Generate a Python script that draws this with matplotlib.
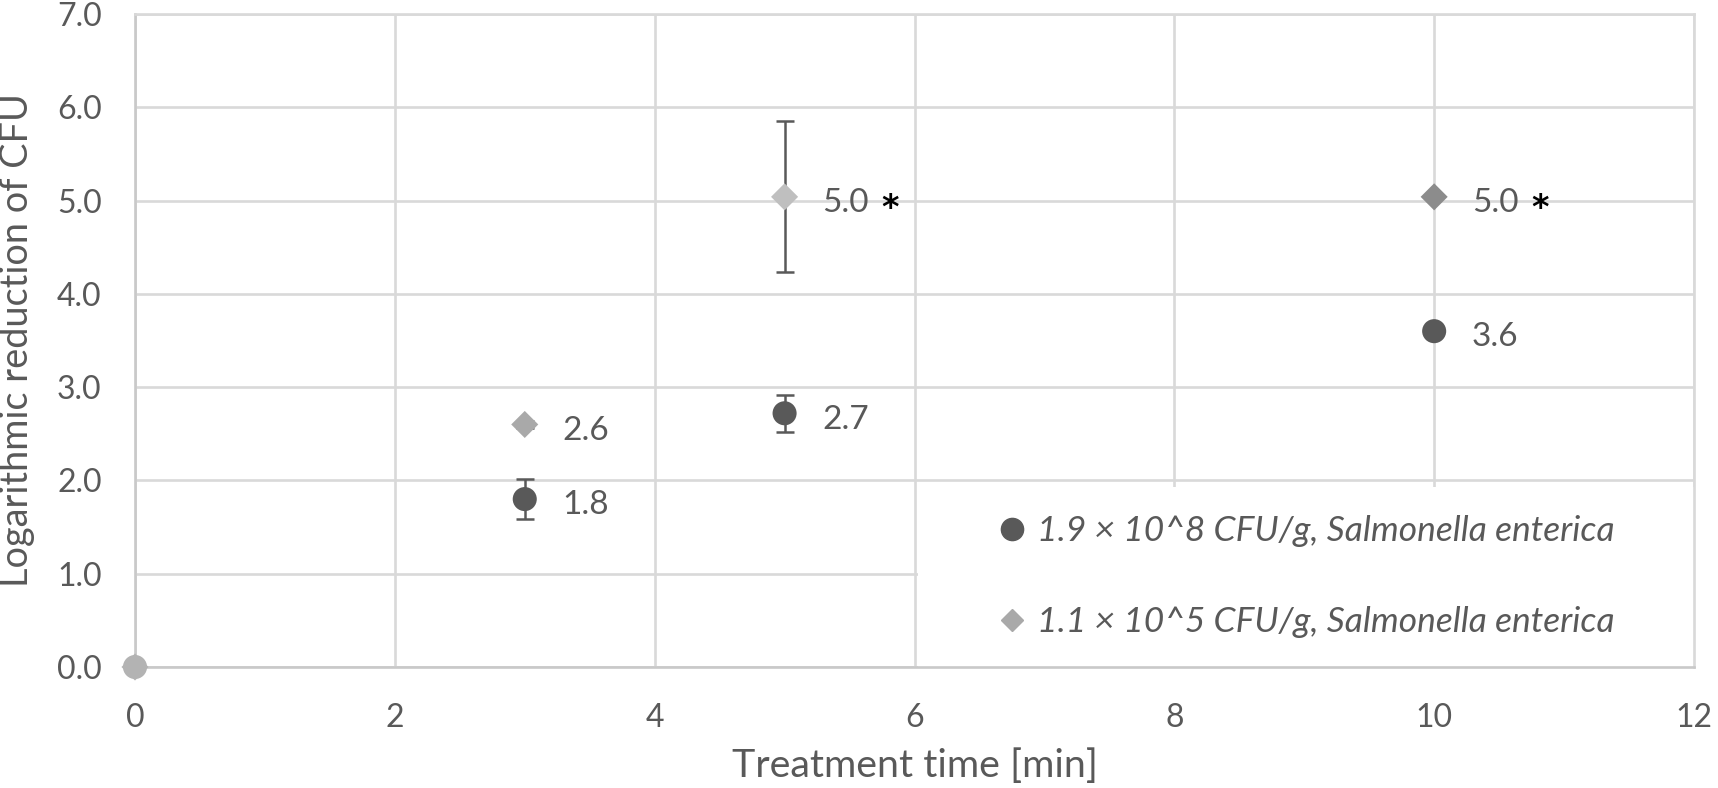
import matplotlib
matplotlib.use("Agg")
import matplotlib.pyplot as plt
from matplotlib.patches import Rectangle
from matplotlib.lines import Line2D

plt.rcParams['font.family'] = ['Lato', 'DejaVu Sans']

# ---- data ----
times = [0, 3, 5, 10]
high_vals = [0.0, 1.8, 2.72, 3.6]          # 1.9e8 CFU/g
high_err = [0.0, 0.21, 0.20, 0.03]
low_vals = [0.0, 2.6, 5.04, 5.04]          # 1.1e5 CFU/g
low_err = [0.0, 0.04, 0.81, 0.0]
high_colors = ['#b3b3b3', '#595959', '#595959', '#595959']
low_colors = ['#b3b3b3', '#a9a9a9', '#bfbfbf', '#8c8c8c']
high_labels = [None, '1.8', '2.7', '3.6']
low_labels = [None, '2.6', '5.0', '5.0']
low_star = [False, False, True, True]
legend_labels = ['1.9 × 10^8 CFU/g, Salmonella enterica',
                 '1.1 × 10^5 CFU/g, Salmonella enterica']
xticks = [0, 2, 4, 6, 8, 10, 12]
yticks = [0, 1, 2, 3, 4, 5, 6, 7]

dark = '#595959'
grid = '#d9d9d9'

W, H = 1718, 788
fig = plt.figure(figsize=(W / 100, H / 100), dpi=100)
L, R, T, B = 135, 1694, 14, 667
ax = fig.add_axes([L / W, 1 - B / H, (R - L) / W, (B - T) / H])
ax.set_xlim(0, 12)
ax.set_ylim(0, 7)
ax.set_xticks(xticks)
ax.set_yticks(yticks)
ax.set_yticklabels([f'{v:.1f}' for v in yticks])
ax.tick_params(length=0, labelsize=23, labelcolor=dark)
ax.tick_params(axis='y', pad=24)
ax.tick_params(axis='x', pad=26)
ax.grid(True, color=grid, linewidth=1.9, zorder=0)
ax.set_axisbelow(True)
for s in ax.spines.values():
    s.set_color(grid)
    s.set_linewidth(1.9)
ax.spines['bottom'].set_color('#c9c9c9')
ax.spines['left'].set_color('#c9c9c9')

fig.text(914.5 / W, 1 - 777 / H, 'Treatment time [min]', fontsize=28.4, color=dark,
         ha='center', va='baseline')
fig.text(28 / W, 1 - 340.5 / H, 'Logarithmic reduction of CFU', fontsize=27.3,
         color=dark, ha='center', va='baseline', rotation=90, rotation_mode='anchor')

# legend background box
ax.add_patch(Rectangle((0.5025, 0.0), 0.4975, 0.275, transform=ax.transAxes,
                       facecolor='white', edgecolor='none', zorder=1))

# error bars
ax.errorbar(times[1:], high_vals[1:], yerr=high_err[1:], fmt='none',
            ecolor=dark, elinewidth=1.8, capsize=6.5, capthick=1.8, zorder=3)
ax.errorbar([times[1], times[2]], [low_vals[1], low_vals[2]],
            yerr=[low_err[1], low_err[2]], fmt='none',
            ecolor=dark, elinewidth=1.8, capsize=6.5, capthick=1.8, zorder=3)

# markers
ax.scatter(times, high_vals, marker='o', s=300, color=high_colors, zorder=4,
           clip_on=False, linewidths=0)
ax.scatter(times, low_vals, marker='D', s=190, color=low_colors, zorder=5,
           clip_on=False, linewidths=0)

# data labels
for x, y, lab in zip(times, high_vals, high_labels):
    if lab:
        ax.annotate(lab, (x, y), xytext=(27, -11), textcoords='offset points',
                    ha='left', va='baseline', fontsize=24, color=dark, zorder=6)
for x, y, lab, st in zip(times, low_vals, low_labels, low_star):
    if lab:
        ax.annotate(lab, (x, y), xytext=(27, -11), textcoords='offset points',
                    ha='left', va='baseline', fontsize=24, color=dark, zorder=6)
        if st:
            ax.annotate('*', (x, y), xytext=(70, -15), textcoords='offset points',
                        ha='left', va='baseline', fontsize=24, color='black',
                        fontweight='bold', family='DejaVu Sans', zorder=6)

handles = [Line2D([], [], marker='o', linestyle='none', color=dark, markersize=16),
           Line2D([], [], marker='D', linestyle='none', color='#a9a9a9', markersize=11)]
leg = ax.legend(handles, legend_labels, loc='center left',
                bbox_to_anchor=(0.556, 0.1385), frameon=False,
                prop={'style': 'italic', 'size': 25.5}, labelcolor=dark,
                handlelength=0.6, handletextpad=0.4, labelspacing=1.67,
                borderpad=0, borderaxespad=0)
leg.set_zorder(7)

fig.savefig('out.png', dpi=100)
